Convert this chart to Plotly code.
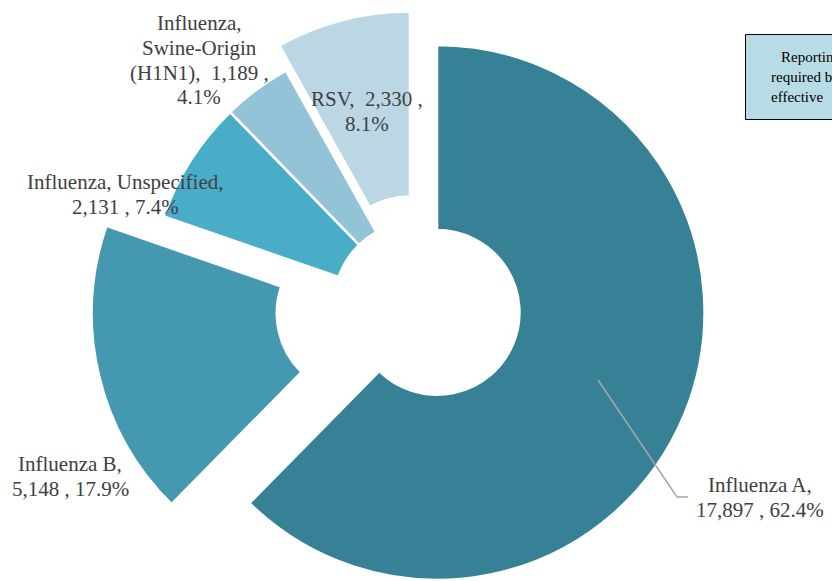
import math
import plotly.graph_objects as go

# ---------------- data ----------------
labels = ["Influenza A", "Influenza B", "Influenza, Unspecified",
          "Influenza, Swine-Origin (H1N1)", "RSV"]
values = [17897, 5148, 2131, 1189, 2330]
pulls = [0.083, 0.22, 0.0, 0.0, 0.097]
colors = ["#378196", "#4499B0", "#4AADC7", "#92C3D6", "#BBD7E4"]

# label text pieces (line layout of the data labels)
label_heads = [["Influenza A,"], ["Influenza B,"], ["Influenza, Unspecified,"],
               ["Influenza,", "Swine-Origin", "(H1N1),  "], ["RSV,  "]]
value_break = [True, True, True, False, False]   # True: value starts a new line

note_lines = ["Reporting of RSV", "required by rule", "effective&nbsp;&nbsp;&nbsp;&nbsp;2023"]

# ---------------- layout constants (window pixels) ----------------
W, H = 832, 581
CX, CY = 416.5, 304.0
R = 267.5
HOLE = 0.308
FONT = "Liberation Serif"
TXT = "#404040"

label_pos = [(760, 485), (70, 464), (125, 182.5), (199, 23), (367, 99)]
LINE_H = 24.8

def px(x):
    return x / W

def py(y):
    return 1 - y / H

total = sum(values)
fig = go.Figure()
cum = 0.0
for i, v in enumerate(values):
    mid = (cum + v / 2) / total * 2 * math.pi
    cum += v
    cx = CX + pulls[i] * R * math.sin(mid)
    cy = CY - pulls[i] * R * math.cos(mid)
    # keep domain inside the paper
    if cy + R > H:
        cy = H - R
    if cy - R < 0:
        cy = R
    dom_x = [max(0, px(cx - R)), min(1, px(cx + R))]
    dom_y = [max(0, py(cy + R)), min(1, py(cy - R))]
    fig.add_trace(go.Pie(
        labels=labels, values=values, sort=False, direction="clockwise",
        rotation=0, hole=HOLE, textinfo="none",
        marker=dict(
            colors=[colors[j] if j == i else "rgba(0,0,0,0)" for j in range(len(values))],
            line=dict(color=["#FFFFFF" if j == i else "rgba(0,0,0,0)" for j in range(len(values))],
                      width=[2.5 if j == i else 0 for j in range(len(values))]),
        ),
        hoverinfo="label+value+percent",
        showlegend=False,
        domain=dict(x=dom_x, y=dom_y),
    ))

annotations = []
for i, v in enumerate(values):
    pct = round(v / total * 100, 1)
    heads = list(label_heads[i])
    if value_break[i]:
        lines = heads + [f"{v:,} , {pct}%"]
    else:
        lines = heads[:-1] + [heads[-1] + f"{v:,} ,", f"{pct}%"]
    x0, y0 = label_pos[i]
    for k, ln in enumerate(lines):
        annotations.append(dict(
            x=px(x0), y=py(y0 + k * LINE_H), xref="paper", yref="paper",
            text=ln.replace("  ", " &nbsp;"), showarrow=False,
            xanchor="center", yanchor="middle",
            font=dict(family=FONT, size=21, color=TXT),
        ))

note_x = [779, 769, 769]
note_y = [57, 77, 97]
for k, ln in enumerate(note_lines):
    annotations.append(dict(
        x=px(note_x[k]), y=py(note_y[k]), xref="paper", yref="paper",
        text=ln, showarrow=False, xanchor="left", yanchor="middle",
        font=dict(family=FONT, size=15, color="#000000"),
    ))

shapes = [
    dict(type="rect", xref="paper", yref="paper",
         x0=px(745.5), x1=px(1000), y0=py(34.5), y1=py(119.5),
         line=dict(color="#000000", width=1), fillcolor="#B8DCE6", layer="below"),
    dict(type="path", xref="paper", yref="paper",
         path=f"M {px(598)},{py(380)} L {px(677)},{py(497)} L {px(688)},{py(497)}",
         line=dict(color="#A6A6A6", width=1.5)),
]

fig.update_layout(
    width=W, height=H,
    margin=dict(l=0, r=0, t=0, b=0),
    paper_bgcolor="white", plot_bgcolor="white",
    annotations=annotations, shapes=shapes,
    showlegend=False,
)

fig.write_html(
    "out.html",
    config={"displayModeBar": False},
    post_script="document.body.style.margin='0';document.body.style.overflow='hidden';",
)
